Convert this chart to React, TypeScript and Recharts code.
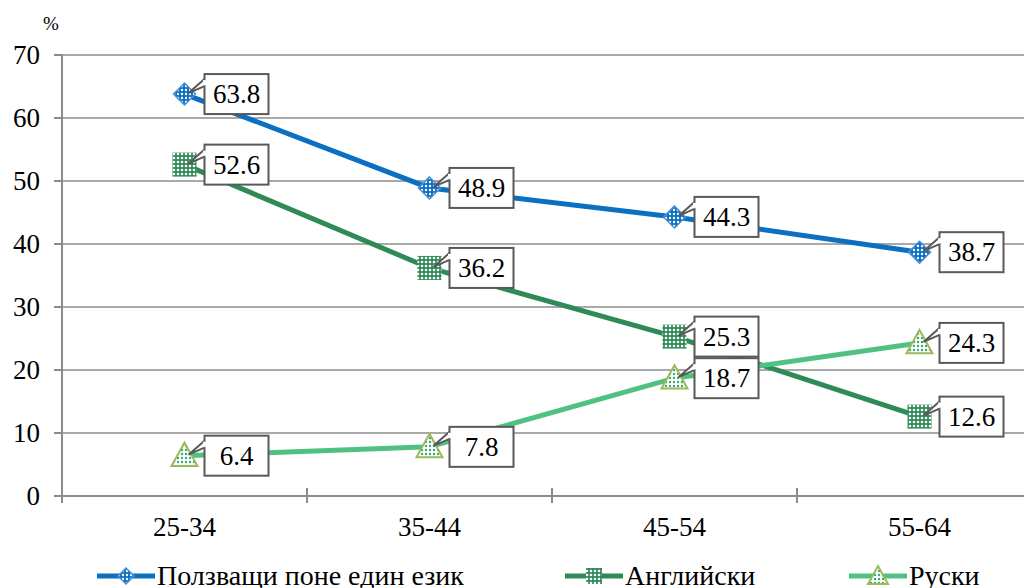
import { CartesianGrid, Line, LineChart, XAxis, YAxis } from 'recharts';

const categories = ['25-34', '35-44', '45-54', '55-64'];
const anyLanguage = [63.8, 48.9, 44.3, 38.7];
const english = [52.6, 36.2, 25.3, 12.6];
const russian = [6.4, 7.8, 18.7, 24.3];
const yTicks = [0, 10, 20, 30, 40, 50, 60, 70];
const seriesNames = ['Ползващи поне един език', 'Английски', 'Руски'];

const data = categories.map((name, i) => ({
  name,
  anyLanguage: anyLanguage[i],
  english: english[i],
  russian: russian[i],
}));

const FONT = 'Liberation Serif';
const GRID = '#8c8c8c';
const BLUE = '#0b6fc2';
const DARK_GREEN = '#2f8a57';
const LIGHT_GREEN = '#4fc283';

const Diamond = ({ cx, cy, r = 11 }: any) => (
  <path
    d={`M${cx},${cy - r}L${cx + r},${cy}L${cx},${cy + r}L${cx - r},${cy}Z`}
    fill="url(#patBlue)"
    stroke="#4a8fd8"
    strokeWidth={1.5}
  />
);

const Square = ({ cx, cy, r = 12 }: any) => (
  <rect x={cx - r} y={cy - r} width={r * 2} height={r * 2} fill="url(#patDark)" />
);

const Triangle = ({ cx, cy, r = 13 }: any) => (
  <path
    d={`M${cx},${cy - r}L${cx + r},${cy + r * 0.8}L${cx - r},${cy + r * 0.8}Z`}
    fill="url(#patLight)"
    stroke="#9bbb59"
    strokeWidth={2}
  />
);

const Callout = ({ x, y, value }: any) => {
  if (x == null || y == null) return null;
  const bx = x + 20;
  const by = y - 20;
  const w = 64;
  const h = 40;
  return (
    <g>
      <rect x={bx} y={by} width={w} height={h} fill="#fff" stroke="#595959" strokeWidth={2} />
      <path
        d={`M${bx},${by + 5}L${x + 4},${y - 1}L${bx},${by + 12}`}
        fill="#fff"
        stroke="#595959"
        strokeWidth={2}
      />
      <line x1={bx} y1={by + 6} x2={bx} y2={by + 11} stroke="#fff" strokeWidth={3} />
      <text x={bx + w / 2} y={by + h / 2 + 9} textAnchor="middle" fontFamily={FONT} fontSize={27} fill="#000">
        {value}
      </text>
    </g>
  );
};

const XTick = ({ x, y, payload, index, visibleTicksCount }: any) => {
  const off = payload.offset ?? 0;
  const last = index === (visibleTicksCount ?? categories.length) - 1;
  return (
    <g>
      <line x1={x - off} y1={y - 8} x2={x - off} y2={y + 7} stroke={GRID} strokeWidth={2} />
      {last && <line x1={x + off} y1={y - 8} x2={x + off} y2={y + 7} stroke={GRID} strokeWidth={2} />}
      <text x={x} y={y + 40} textAnchor="middle" fontFamily={FONT} fontSize={27} fill="#000">
        {payload.value}
      </text>
    </g>
  );
};

const YTick = ({ x, y, payload }: any) => (
  <text x={x} y={y + 9} textAnchor="end" fontFamily={FONT} fontSize={27} fill="#000">
    {payload.value}
  </text>
);

const legendItems = [
  { name: seriesNames[0], color: BLUE, left: 97, Marker: Diamond, r: 8 },
  { name: seriesNames[1], color: DARK_GREEN, left: 565, Marker: Square, r: 8 },
  { name: seriesNames[2], color: LIGHT_GREEN, left: 849, Marker: Triangle, r: 10 },
];

export default function App() {
  return (
    <div style={{ position: 'relative', margin: '-8px 0 0 -8px', width: 1032, height: 588, overflow: 'hidden', background: '#fff' }}>
      <div style={{ position: 'absolute', left: 43, top: 13, fontSize: 19, fontFamily: FONT }}>%</div>
      <LineChart width={1042} height={588} data={data} margin={{ top: 55, right: 0, left: 0, bottom: 42 }}>
        <defs>
          <pattern id="patBlue" width={4} height={4} patternUnits="userSpaceOnUse">
            <rect width={4} height={4} fill={BLUE} />
            <circle cx={2} cy={2} r={1.2} fill="#fff" />
          </pattern>
          <pattern id="patDark" width={4} height={4} patternUnits="userSpaceOnUse">
            <rect width={4} height={4} fill={DARK_GREEN} />
            <circle cx={2} cy={2} r={1.3} fill="#fff" />
          </pattern>
          <pattern id="patLight" width={4} height={4} patternUnits="userSpaceOnUse">
            <rect width={4} height={4} fill="#fff" />
            <circle cx={2} cy={2} r={1.2} fill="#3aa870" />
          </pattern>
        </defs>
        <CartesianGrid vertical={false} stroke={GRID} strokeWidth={1.5} />
        <XAxis
          dataKey="name"
          scale="band"
          height={50}
          axisLine={{ stroke: GRID, strokeWidth: 2 }}
          tickLine={false}
          tickSize={0}
          tickMargin={0}
          tick={<XTick />}
        />
        <YAxis
          width={62}
          domain={[0, 70]}
          ticks={yTicks}
          interval={0}
          axisLine={{ stroke: GRID, strokeWidth: 2 }}
          tickLine={{ stroke: GRID, strokeWidth: 2 }}
          tickSize={8}
          tickMargin={14}
          tick={<YTick />}
        />
        <Line
          dataKey="anyLanguage"
          stroke={BLUE}
          strokeWidth={5}
          dot={(p: any) => <Diamond key={`d${p.index}`} cx={p.cx} cy={p.cy} />}
          activeDot={false}
          isAnimationActive={false}
        />
        <Line
          dataKey="english"
          stroke={DARK_GREEN}
          strokeWidth={5}
          dot={(p: any) => <Square key={`s${p.index}`} cx={p.cx} cy={p.cy} />}
          activeDot={false}
          isAnimationActive={false}
        />
        <Line
          dataKey="russian"
          stroke={LIGHT_GREEN}
          strokeWidth={5}
          dot={(p: any) => <Triangle key={`t${p.index}`} cx={p.cx} cy={p.cy} />}
          activeDot={false}
          isAnimationActive={false}
        />
        <Line dataKey="anyLanguage" stroke="none" dot={false} activeDot={false} legendType="none" isAnimationActive={false} label={<Callout />} />
        <Line dataKey="english" stroke="none" dot={false} activeDot={false} legendType="none" isAnimationActive={false} label={<Callout />} />
        <Line dataKey="russian" stroke="none" dot={false} activeDot={false} legendType="none" isAnimationActive={false} label={<Callout />} />
      </LineChart>
      {legendItems.map(({ name, color, left, Marker, r }) => (
        <div
          key={name}
          style={{ position: 'absolute', left, top: 559, height: 34, display: 'flex', alignItems: 'center', whiteSpace: 'nowrap' }}
        >
          <svg width={58} height={30} style={{ marginRight: 2 }}>
            <line x1={0} y1={15} x2={58} y2={15} stroke={color} strokeWidth={5} />
            <Marker cx={29} cy={15} r={r} />
          </svg>
          <span style={{ fontFamily: FONT, fontSize: 28 }}>{name}</span>
        </div>
      ))}
    </div>
  );
}
